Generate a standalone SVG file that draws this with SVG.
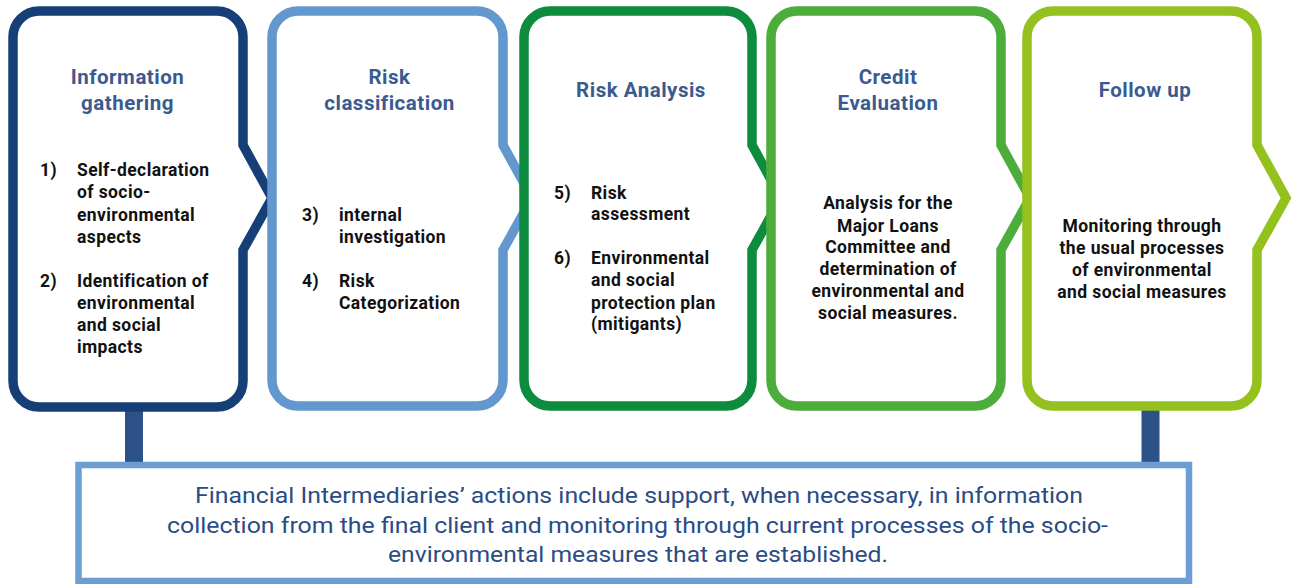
<svg xmlns="http://www.w3.org/2000/svg" width="1291" height="584" viewBox="0 0 1291 584">
<style>
.box{fill:#fff;stroke-width:9.5;stroke-linejoin:miter}
.title{font-family:Roboto,"Liberation Sans",sans-serif;font-weight:700;font-size:20.5px;letter-spacing:0.5px;fill:#3a5a90;text-anchor:middle}
.body{font-family:Roboto,"Liberation Sans",sans-serif;font-weight:700;font-size:17.5px;letter-spacing:0.4px;fill:#111}
.c{text-anchor:middle}
.note{font-family:Roboto,"Liberation Sans",sans-serif;font-size:22px;fill:#2a4c84;text-anchor:middle}
.bar{stroke:#2c5287;stroke-width:18}
</style>
<rect width="1291" height="584" fill="#fff"/>
<g id="connectors">
<line class="bar" x1="134" y1="410" x2="134" y2="464"/>
<line class="bar" x1="1150.5" y1="410" x2="1150.5" y2="464"/>
</g>
<g id="node1">
<path class="box" stroke="#173f77" d="M39,11 H217 A26,26 0 0 1 243,37 V145 L272,198 L243,250 V381 A26,26 0 0 1 217,407 H39 A26,26 0 0 1 13,381 V37 A26,26 0 0 1 39,11 Z"/>
<text class="title" x="127.5" y="84">Information</text>
<text class="title" x="127.5" y="110">gathering</text>
<text class="body" x="40" y="176">1)</text>
<text class="body" x="77" y="176">Self-declaration</text>
<text class="body" x="77" y="198">of socio-</text>
<text class="body" x="77" y="221">environmental</text>
<text class="body" x="77" y="243">aspects</text>
<text class="body" x="40" y="287">2)</text>
<text class="body" x="77" y="287">Identification of</text>
<text class="body" x="77" y="309">environmental</text>
<text class="body" x="77" y="331">and social</text>
<text class="body" x="77" y="353">impacts</text>
</g>
<g id="node2">
<path class="box" stroke="#6398cf" d="M298,11 H477 A26,26 0 0 1 503,37 V145 L532,198 L503,250 V380 A26,26 0 0 1 477,406 H298 A26,26 0 0 1 272,380 V37 A26,26 0 0 1 298,11 Z"/>
<text class="title" x="389.5" y="84">Risk</text>
<text class="title" x="389.5" y="110">classification</text>
<text class="body" x="302" y="221">3)</text>
<text class="body" x="339" y="221">internal</text>
<text class="body" x="339" y="243">investigation</text>
<text class="body" x="302" y="287">4)</text>
<text class="body" x="339" y="287">Risk</text>
<text class="body" x="339" y="309">Categorization</text>
</g>
<g id="node3">
<path class="box" stroke="#0c8c3c" d="M550,11 H726 A26,26 0 0 1 752,37 V145 L781,198 L752,250 V380 A26,26 0 0 1 726,406 H550 A26,26 0 0 1 524,380 V37 A26,26 0 0 1 550,11 Z"/>
<text class="title" x="641" y="97">Risk Analysis</text>
<text class="body" x="554" y="199">5)</text>
<text class="body" x="591" y="199">Risk</text>
<text class="body" x="591" y="220">assessment</text>
<text class="body" x="554" y="264">6)</text>
<text class="body" x="591" y="264">Environmental</text>
<text class="body" x="591" y="286">and social</text>
<text class="body" x="591" y="309">protection plan</text>
<text class="body" x="591" y="330">(mitigants)</text>
</g>
<g id="node4">
<path class="box" stroke="#4cad3b" d="M797,11 H975 A26,26 0 0 1 1001,37 V145 L1030,198 L1001,250 V380 A26,26 0 0 1 975,406 H797 A26,26 0 0 1 771,380 V37 A26,26 0 0 1 797,11 Z"/>
<text class="title" x="888" y="84">Credit</text>
<text class="title" x="888" y="110">Evaluation</text>
<text class="body c" x="888" y="209">Analysis for the</text>
<text class="body c" x="888" y="232">Major Loans</text>
<text class="body c" x="888" y="253">Committee and</text>
<text class="body c" x="888" y="275">determination of</text>
<text class="body c" x="888" y="297">environmental and</text>
<text class="body c" x="888" y="319">social measures.</text>
</g>
<g id="node5">
<path class="box" stroke="#95c11f" d="M1053,11 H1231 A26,26 0 0 1 1257,37 V145 L1286,198 L1257,250 V380 A26,26 0 0 1 1231,406 H1053 A26,26 0 0 1 1027,380 V37 A26,26 0 0 1 1053,11 Z"/>
<text class="title" x="1145" y="97">Follow up</text>
<text class="body c" x="1142" y="232">Monitoring through</text>
<text class="body c" x="1142" y="254">the usual processes</text>
<text class="body c" x="1142" y="276">of environmental</text>
<text class="body c" x="1142" y="298">and social measures</text>
</g>
<g id="note">
<rect x="78.5" y="465" width="1110.5" height="116" fill="#fff" stroke="#6c9dd3" stroke-width="6.5"/>
<text class="note" x="639" y="503" textLength="888" lengthAdjust="spacingAndGlyphs">Financial Intermediaries’ actions include support, when necessary, in information</text>
<text class="note" x="637.5" y="533" textLength="941" lengthAdjust="spacingAndGlyphs">collection from the final client and monitoring through current processes of the socio-</text>
<text class="note" x="638" y="562" textLength="500" lengthAdjust="spacingAndGlyphs">environmental measures that are established.</text>
</g>
</svg>
